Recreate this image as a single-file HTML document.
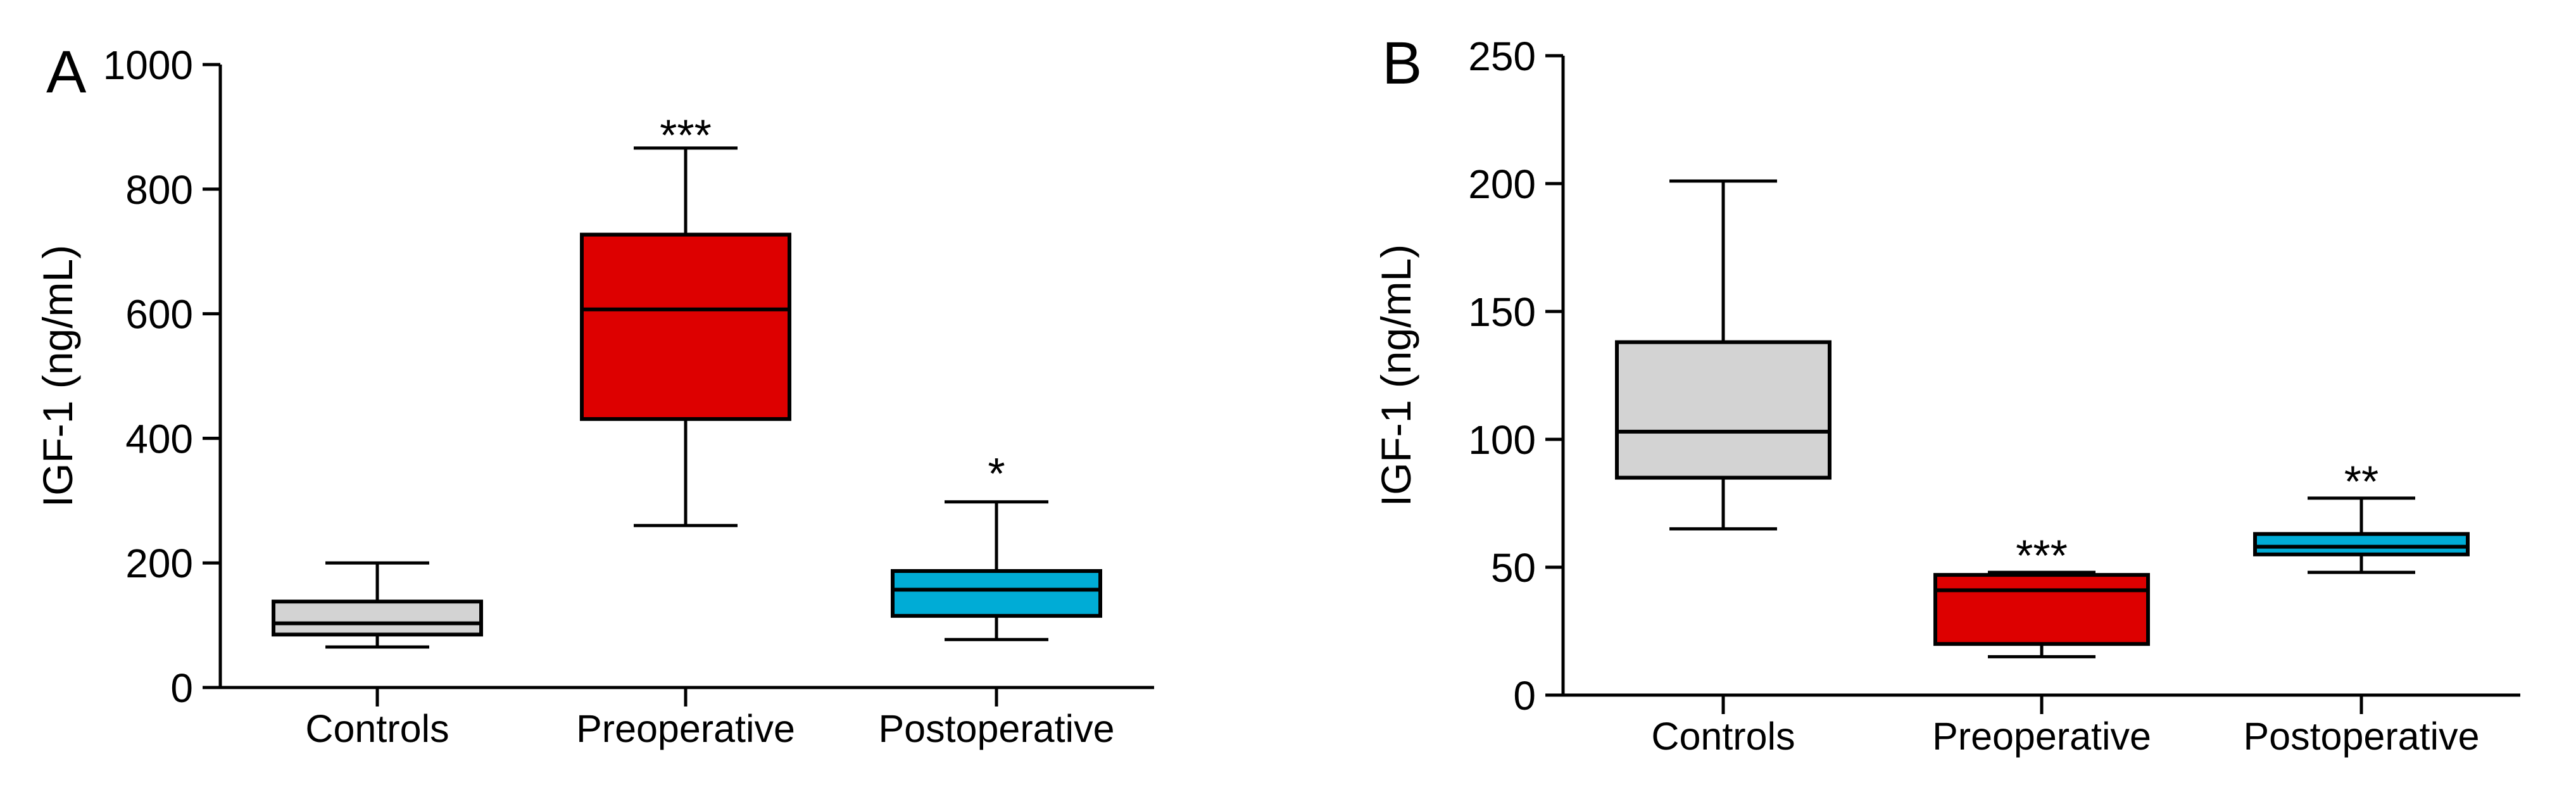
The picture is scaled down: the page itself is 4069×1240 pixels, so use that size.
<!DOCTYPE html>
<html><head><meta charset="utf-8"><style>
html,body{margin:0;padding:0;background:#fff;}
svg{display:block;font-family:"Liberation Sans",Arial,sans-serif;}
</style></head><body>
<svg id="chart" width="4069" height="1240" viewBox="0 0 4069 1240" xmlns="http://www.w3.org/2000/svg"></svg>
<script>
const categories = ["Controls", "Preoperative", "Postoperative"];
const colors = ["#d3d3d3", "#dd0000", "#00acd6"];
// Panel A: [min, q1, median, q3, max]
const panelAMin = [65, 260, 77];
const panelAQ1 = [85, 431, 115];
const panelAMedian = [103, 607, 157];
const panelAQ3 = [138, 727, 187];
const panelAMax = [200, 866, 298];
const panelAStars = ["", "***", "*"];
const panelAStarVals = [0, 905, 362];
const panelATicks = [0, 200, 400, 600, 800, 1000];
// Panel B
const panelBMin = [65, 15, 48];
const panelBQ1 = [85, 20, 55];
const panelBMedian = [103, 41, 58];
const panelBQ3 = [138, 47, 63];
const panelBMax = [201, 48, 77];
const panelBStars = ["", "***", "**"];
const panelBStarVals = [0, 59, 88];
const panelBTicks = [0, 50, 100, 150, 200, 250];

const svg = document.getElementById('chart');
const NS = "http://www.w3.org/2000/svg";
function mk(tag, attrs, parent){
  const e = document.createElementNS(NS, tag);
  for (const k in attrs) e.setAttribute(k, attrs[k]);
  (parent||svg).appendChild(e);
  return e;
}

function panel(cfg){
  const g = mk('g', {});
  
  
  const y = v => cfg.y0 - (v - 0) / cfg.max * (cfg.y0 - cfg.yTop);
  const x = i => cfg.cx[i];
  const L = mk('text', {x: cfg.letterX, y: cfg.letterY, 'font-size': 95, fill: '#000'}, g);
  L.textContent = cfg.letter;
  
  
  const ya = mk('line', {x1: cfg.ax, y1: y(cfg.max), x2: cfg.ax, y2: cfg.y0 + 2, stroke: '#000', 'stroke-width': 5}, g);
  
  
  const xa = mk('line', {x1: cfg.ax - 2, y1: cfg.y0, x2: cfg.xEnd, y2: cfg.y0, stroke: '#000', 'stroke-width': 5}, g);
  
  
  cfg.ticks.forEach(t => {
    const tl = mk('line', {x1: cfg.ax - 28, y1: y(t), x2: cfg.ax, y2: y(t), stroke: '#000', 'stroke-width': 5}, g);
    
    
    const tt = mk('text', {x: cfg.ax - 43, y: y(t) + 23, 'font-size': 64, 'text-anchor': 'end', fill: '#000'}, g);
    tt.textContent = t;
    
    
  });
  const yt = mk('text', {x: 0, y: 0, 'font-size': 66, 'text-anchor': 'middle', fill: '#000',
    transform: `translate(${cfg.titleX},${(cfg.y0 + y(cfg.max)) / 2}) rotate(-90)`}, g);
  yt.textContent = "IGF-1 (ng/mL)";
  
  
  categories.forEach((c, i) => {
    const ct = mk('line', {x1: x(i), y1: cfg.y0, x2: x(i), y2: cfg.y0 + 30, stroke: '#000', 'stroke-width': 5}, g);
    
    
    const cl = mk('text', {x: x(i), y: cfg.y0 + 86, 'font-size': 61, 'text-anchor': 'middle', fill: '#000'}, g);
    cl.textContent = c;
    
    
    const bg = mk('g', {}, g);
    
    
    const hw = cfg.hw, cw = cfg.cw;
    const w1 = mk('line', {x1: x(i), y1: y(cfg.max_[i]), x2: x(i), y2: y(cfg.q3[i]), stroke: '#000', 'stroke-width': 5}, bg);
    
    
    const w2 = mk('line', {x1: x(i), y1: y(cfg.q1[i]), x2: x(i), y2: y(cfg.min[i]), stroke: '#000', 'stroke-width': 5}, bg);
    
    
    const c1 = mk('line', {x1: x(i) - cw, y1: y(cfg.max_[i]), x2: x(i) + cw, y2: y(cfg.max_[i]), stroke: '#000', 'stroke-width': 5}, bg);
    
    
    const c2 = mk('line', {x1: x(i) - cw, y1: y(cfg.min[i]), x2: x(i) + cw, y2: y(cfg.min[i]), stroke: '#000', 'stroke-width': 5}, bg);
    
    
    const r = mk('rect', {x: x(i) - hw, y: y(cfg.q3[i]), width: 2 * hw, height: y(cfg.q1[i]) - y(cfg.q3[i]), fill: colors[i], stroke: '#000', 'stroke-width': 6}, bg);
    
    
    const m = mk('line', {x1: x(i) - hw, y1: y(cfg.med[i]), x2: x(i) + hw, y2: y(cfg.med[i]), stroke: '#000', 'stroke-width': 6}, bg);
    
    
    if (cfg.stars[i]) {
      const s = mk('text', {x: x(i), y: y(cfg.starVals[i]) + 42, 'font-size': 70, 'text-anchor': 'middle', fill: '#000'}, g);
      s.textContent = cfg.stars[i];
      
      
    }
  });
}

panel({name: 'panel-a', letter: 'A', letterX: 73, letterY: 146, ax: 348, y0: 1086, yTop: 102, max: 1000,
  xEnd: 1823, cx: [596, 1083, 1574], hw: 164, cw: 82, titleX: 114, ticks: panelATicks,
  min: panelAMin, q1: panelAQ1, med: panelAMedian, q3: panelAQ3, max_: panelAMax,
  stars: panelAStars, starVals: panelAStarVals});
panel({name: 'panel-b', letter: 'B', letterX: 2183, letterY: 132, ax: 2469, y0: 1098, yTop: 88, max: 250,
  xEnd: 3981, cx: [2722, 3225, 3730], hw: 168, cw: 85, titleX: 2228, ticks: panelBTicks,
  min: panelBMin, q1: panelBQ1, med: panelBMedian, q3: panelBQ3, max_: panelBMax,
  stars: panelBStars, starVals: panelBStarVals});
</script>
</body></html>
